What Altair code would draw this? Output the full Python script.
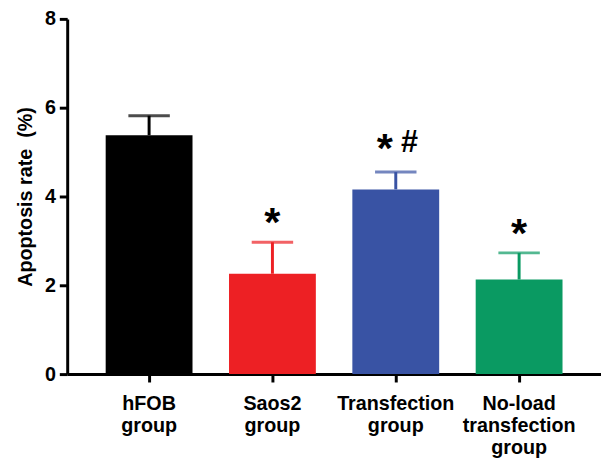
import altair as alt
import pandas as pd

groups = ["hFOB group", "Saos2 group", "Transfection group", "No-load transfection group"]
values = [5.38, 2.26, 4.16, 2.13]
errors = [0.44, 0.71, 0.39, 0.60]
stars = ["", "*", "*", "*"]
hashes = ["", "", "#", ""]
colors = ["#000000", "#ED2024", "#3953A4", "#0A9A62"]
y_ticks = [0, 2, 4, 6, 8]

df = pd.DataFrame({
    "group": groups,
    "value": values,
    "err": errors,
    "star": stars,
    "hash": hashes,
})
df["top"] = df["value"] + df["err"]
df["both"] = (df["star"] != "") & (df["hash"] != "")

x = alt.X("group:N", sort=groups, title=None,
          scale=alt.Scale(paddingInner=0.296, paddingOuter=0.312),
          axis=alt.Axis(labelAngle=0, labelExpr="split(datum.label, ' ')",
                        labelFontSize=20, labelFontWeight="bold", labelFont="Liberation Sans",
                        labelLineHeight=22, labelPadding=12, labelColor="#000000",
                        domainColor="#000000", domainWidth=3, tickColor="#000000",
                        tickWidth=3, tickSize=8))
color = alt.Color("group:N", scale=alt.Scale(domain=groups, range=colors), legend=None)
yscale = alt.Scale(domain=[0, 8], nice=False)

base = alt.Chart(df)

bars = base.mark_bar().encode(
    x=x,
    y=alt.Y("value:Q", scale=yscale, title="Apoptosis rate\u00a0\u00a0(%)",
            axis=alt.Axis(values=y_ticks, grid=False, labelFontSize=20, labelFontWeight="bold",
                          labelFont="Liberation Sans", labelColor="#000000", labelPadding=4,
                          domainColor="#000000", domainWidth=3, tickColor="#000000",
                          tickWidth=3, tickSize=8, titleFontSize=20, titleFontWeight="bold",
                          titleFont="Liberation Sans", titleColor="#000000", titlePadding=9)),
    color=color,
)

err_line = base.mark_rule(strokeWidth=3).encode(
    x=x, y=alt.Y("value:Q", scale=yscale), y2="top:Q", color=color)
err_cap = base.mark_tick(thickness=3, size=42).encode(
    x=x, y=alt.Y("top:Q", scale=yscale), color=color)

star_single = base.transform_filter("datum.star != '' && !datum.both").mark_text(
    font="Liberation Sans", fontSize=42, fontWeight="bold", baseline="alphabetic", dy=-6,
    color="#000000").encode(x=x, y=alt.Y("top:Q", scale=yscale), text="star:N")
star_pair = base.transform_filter("datum.both").mark_text(
    font="Liberation Sans", fontSize=42, fontWeight="bold", baseline="alphabetic", dy=-10, dx=-11,
    color="#000000").encode(x=x, y=alt.Y("top:Q", scale=yscale), text="star:N")
hash_txt = base.transform_filter("datum.hash != ''").mark_text(
    font="Liberation Sans", fontSize=31, fontWeight="bold", baseline="alphabetic", dy=-20, dx=14,
    color="#000000").encode(x=x, y=alt.Y("top:Q", scale=yscale), text="hash:N")

chart = alt.layer(bars, err_line, err_cap, star_single, star_pair, hash_txt).properties(
    width=541, height=360,
    autosize=alt.AutoSizeParams(type="none"),
    padding={"left": 60, "top": 8, "right": 0, "bottom": 82},
).configure_view(stroke=None)

chart.save("out.html", embed_options={"renderer": "svg", "actions": False})
